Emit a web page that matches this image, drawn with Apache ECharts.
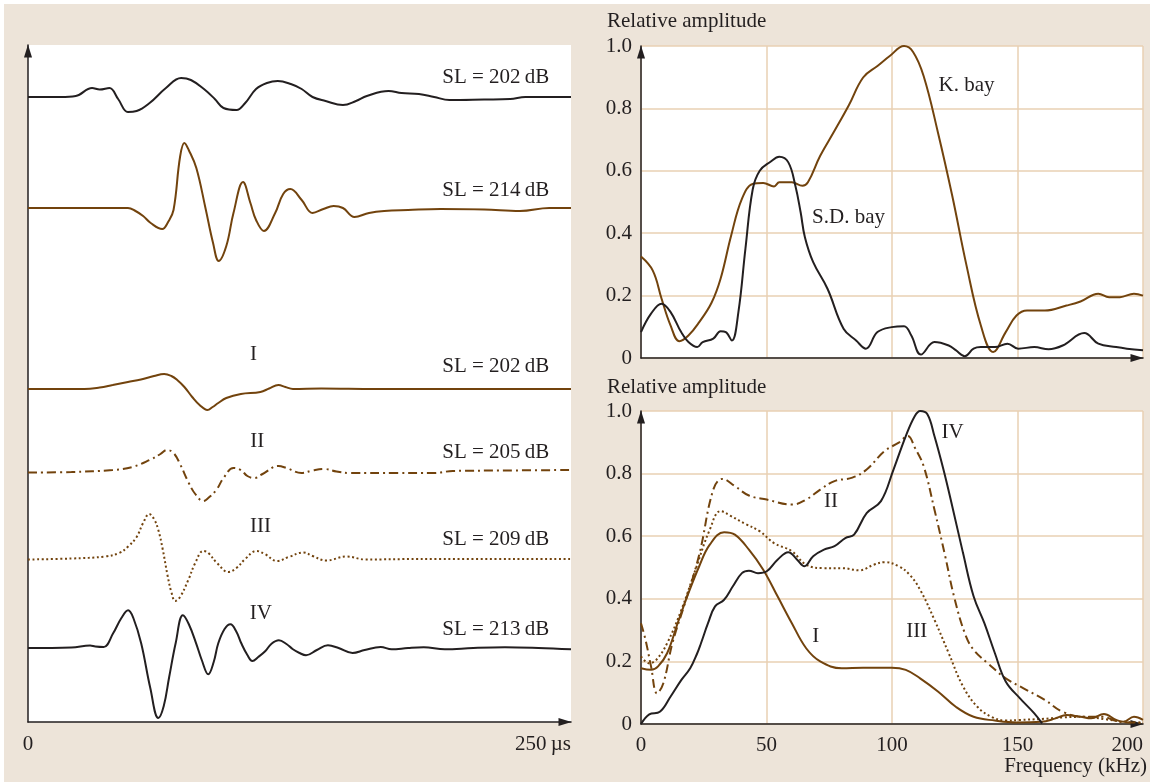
<!DOCTYPE html>
<html>
<head>
<meta charset="utf-8">
<script src="https://cdn.jsdelivr.net/npm/echarts@6/dist/echarts.min.js"></script>
<style>
  html, body { margin: 0; padding: 0; background: #fff; }
  #chart {
    position: absolute; left: 0; top: 0; width: 1150px; height: 782px;
    background: linear-gradient(#ede4d9, #ede4d9) 4px 4px / 1146px 778px no-repeat, #fff;
  }
</style>
</head>
<body>
<div id="chart"></div>
<script>
// ---- Echo waveforms: [time (µs), pressure (arbitrary units)] ----
const waveSD = [[0,0],[15,0],[22,1],[29.5,9],[33,7.5],[37.5,9],[41.5,-2],[46,-15],[50,-14],[56,-6],[63.5,9],[70.5,19],[75,17],[81,8],[86,-2],[90,-11],[96,-13],[100,-6],[105,8],[110,14],[115,16],[121,13],[126,8],[131,0],[137,-4],[145,-8],[151,-4],[156,1],[166,6],[172,4],[180,3],[187,0],[194,-3],[210,-2.5],[222,-2],[229,0],[250,0]];
const waveK = [[0,0],[46,0],[49.5,-3],[53,-8],[56.5,-15],[61.8,-21],[64.5,-14],[67,-2],[70,51],[72,65],[74,58],[77.5,40],[81.7,0],[85.2,-35],[87.8,-53],[91.3,-38],[94.6,-5],[99,26],[102.4,5],[105,-12],[108.6,-23],[113.8,-5],[117.5,14],[120.8,19],[126,8],[131,-5],[136,-1],[140.7,2],[145,0],[150.3,-9],[157,-5],[164,-3],[175,-2],[190,-1],[210,-1.5],[226.5,-3],[240,0],[250,0]];
const waveI = [[0,0],[26,0],[33,1.5],[39,4],[46,7],[52,9.5],[58,13],[62.7,15],[66,13],[68.7,9],[72,2],[75.6,-8],[79,-16],[82.6,-21],[85,-18],[87.6,-14],[91.3,-9],[98,-5],[107,-3],[111,0.5],[115.3,4],[118.5,2],[122,0],[135,0.5],[160,0],[250,0]];
const waveII = [[0,-0.5],[20,0],[39,2],[48,5],[56,12],[61,18],[64,22],[67,19],[70,8],[73.8,-10],[77,-22],[80.7,-29],[83,-26],[86.7,-18],[90,-6],[94.6,4],[98,2],[101,-4],[104.2,-6],[108,-2],[115.3,6],[119,4],[125.9,-1],[131,1.5],[136.5,3],[142,0.5],[148.5,-1],[170,-1],[186.8,-1],[195.6,1],[220,1.5],[250,2]];
const waveIII = [[0,-0.5],[20,0.5],[35.5,2.5],[42,6],[46.1,12.5],[50,22],[53,36],[55.8,45],[58,40],[60,29],[62,10],[64.3,-17],[66,-33],[67.8,-42],[70,-38],[73.8,-21],[77,-4],[80.7,8],[83,6],[87,-4],[92.3,-13],[96,-9],[100,0],[105.2,8],[109,5],[114.7,-2],[120,2],[126.8,6.5],[131,3],[137.2,-1.5],[146.7,2.5],[155.4,-0.5],[180,0],[250,0]];
const waveIV = [[0,0],[20,0.5],[28.6,2.5],[31,1.5],[34.8,1],[39.2,14.7],[43,30],[46.1,37.7],[48.5,30],[52.1,4.7],[56.3,-40],[60,-70],[62.5,-58],[65,-29],[68,5],[71.3,32.7],[74,24],[77.4,4.7],[80,-12],[83,-26.3],[85.5,-14],[87.6,4.7],[90.5,19],[93.2,23.7],[96,16],[98.2,4.7],[101,-7],[103.3,-13],[106,-9],[109.3,-3],[112,4],[115.5,7.7],[119,4],[121.8,-1],[125,-5],[128,-7.3],[133,-2],[138.1,2.7],[143,0],[149.4,-5],[155,-2],[162.4,1],[167.4,-1.3],[175,0],[182.2,0.7],[191.9,-1.3],[205,0],[219.6,0.7],[235,0],[250,-1.3]];

const waveNames = ['', '', 'I', 'II', 'III', 'IV'];
const sourceLevels = ['SL = 202\u2009dB', 'SL = 214\u2009dB', 'SL = 202\u2009dB', 'SL = 205\u2009dB', 'SL = 209\u2009dB', 'SL = 213\u2009dB'];

// ---- Spectra: [frequency (kHz), relative amplitude] ----
const specKBay = [[0,0.325],[4.7,0.28],[8.2,0.19],[11.8,0.104],[15.3,0.054],[18.9,0.072],[23.2,0.115],[28.1,0.177],[31.7,0.254],[35.9,0.392],[40.2,0.51],[44.5,0.558],[48.7,0.561],[53,0.55],[55.1,0.563],[60.1,0.563],[64.3,0.552],[66.5,0.563],[71.4,0.648],[77.1,0.728],[82.8,0.81],[88.5,0.899],[94.2,0.936],[99.1,0.968],[104.8,1.0],[108.4,0.981],[112.6,0.904],[118.3,0.723],[124,0.52],[129.7,0.296],[135.4,0.104],[140.3,0.019],[145.3,0.083],[149.6,0.136],[153.8,0.152],[160.9,0.152],[169.5,0.168],[175.1,0.181],[182.2,0.206],[186.5,0.195],[190.8,0.195],[196.4,0.206],[200,0.2]];
const specSDBay = [[0,0.083],[4,0.142],[8.2,0.174],[11.8,0.147],[16,0.083],[18.9,0.051],[22.4,0.035],[24.6,0.051],[28.8,0.062],[31.7,0.086],[33.8,0.083],[36.2,0.056],[38.8,0.147],[41.6,0.35],[44.5,0.54],[47.3,0.6],[51.6,0.629],[55.1,0.645],[58.7,0.627],[61.5,0.552],[63.6,0.467],[65.3,0.387],[68.6,0.307],[74.3,0.222],[80.7,0.094],[85.7,0.056],[89.6,0.03],[94.2,0.083],[99.9,0.099],[104.8,0.102],[107.7,0.072],[111.5,0.011],[116.9,0.051],[122.6,0.04],[125.4,0.025],[129,0.006],[132.5,0.03],[135.4,0.035],[141,0.035],[146,0.046],[150.3,0.03],[156.7,0.035],[162.4,0.028],[168,0.04],[176.6,0.08],[182.2,0.046],[189.3,0.035],[193.6,0.03],[200,0.025]];
const specI = [[0,0.178],[4,0.173],[6.8,0.184],[10.4,0.226],[14.6,0.322],[18.9,0.418],[23.2,0.504],[27.4,0.573],[33.1,0.613],[37.4,0.605],[43,0.557],[48.7,0.493],[54.4,0.408],[60.1,0.322],[65.8,0.242],[71.4,0.2],[80,0.178],[88.5,0.18],[99.9,0.18],[105.5,0.173],[111.2,0.146],[118.3,0.104],[125.4,0.055],[132.5,0.023],[141,0.011],[149.6,0.005],[159.5,0.007],[165.2,0.018],[169.5,0.029],[175.1,0.023],[179.4,0.018],[184.4,0.032],[189.3,0.013],[192.2,0.007],[196.4,0.023],[200,0.013]];
const specII = [[0,0.322],[1.8,0.269],[4,0.184],[6.4,0.098],[8.9,0.13],[12.5,0.258],[17.5,0.386],[23.2,0.541],[28.8,0.749],[32.4,0.783],[37.4,0.76],[43,0.73],[50.1,0.717],[60.1,0.701],[65.8,0.717],[71.4,0.749],[77.1,0.776],[84.2,0.787],[89.9,0.813],[97,0.872],[102.7,0.899],[106.3,0.92],[109.1,0.883],[112.6,0.824],[116.9,0.685],[121.2,0.536],[124.7,0.408],[129,0.29],[132.5,0.237],[138.2,0.194],[145.3,0.146],[152.4,0.114],[160.9,0.077],[168,0.039],[176.6,0.023],[183.7,0.023],[190.8,0.007],[200,0.004]];
const specIII = [[0,0.216],[3.3,0.194],[6.1,0.205],[10.4,0.258],[16.1,0.365],[21.7,0.493],[27.4,0.621],[31.7,0.68],[35.9,0.664],[41.6,0.639],[47.3,0.616],[53,0.578],[60.1,0.552],[65.8,0.509],[72.9,0.498],[80,0.498],[87.1,0.491],[92.8,0.509],[97,0.517],[102.7,0.504],[107,0.477],[111.2,0.429],[116.9,0.333],[122.6,0.226],[128.3,0.12],[134,0.055],[139.6,0.023],[145.3,0.011],[151,0.013],[159.5,0.016],[168,0.021],[176.6,0.023],[185.1,0.015],[192.2,0.007],[200,0.005]];
const specIV = [[0,0],[3.3,0.031],[7.5,0.039],[11.8,0.088],[16.1,0.141],[19.6,0.178],[22.4,0.226],[23.9,0.258],[26.7,0.322],[29.5,0.376],[33.1,0.397],[36.6,0.44],[40.2,0.482],[43,0.49],[46.6,0.482],[50.1,0.488],[54.4,0.525],[58.7,0.549],[62.2,0.525],[65.1,0.504],[68.6,0.536],[72.9,0.557],[77.1,0.568],[81.4,0.594],[84.9,0.605],[89.9,0.674],[95.6,0.712],[100.6,0.813],[105.5,0.92],[109.1,0.984],[111.2,1.0],[114.1,0.99],[116.9,0.92],[120.5,0.813],[124,0.696],[128.3,0.546],[132.5,0.408],[136.8,0.322],[141,0.226],[145.3,0.136],[151,0.082],[156.7,0.034],[159.8,0.002]];

const freqTicks = [0, 50, 100, 150, 200];
const ampTicks = [0, 0.2, 0.4, 0.6, 0.8, 1.0];

// ---- Styling and layout ----
const INK = '#231f20';
const BROWN = '#72430d';
const GRIDLINE = '#e8d0b3';
const FONT = "'Liberation Serif', 'Times New Roman', serif";
const FS = 21;
const DASHDOT = [9, 4, 2, 4];
const DOTTED = [2, 2.6];

// vertical offset of each waveform's baseline inside the stacked panel
const stackMax = 677;
const stackBase = [625, 514, 333, 250, 163, 74];
const waveStyles = [
  { color: INK, type: 'solid' },
  { color: BROWN, type: 'solid' },
  { color: BROWN, type: 'solid' },
  { color: BROWN, type: DASHDOT },
  { color: BROWN, type: DOTTED },
  { color: INK, type: 'solid' }
];
const slLift = [20, 17.3, 22.6, 19.3, 19.3, 18.7];
const nameLift = [0, 0, 34.3, 30.3, 32.6, 35];
const nameTime = [0, 0, 103.8, 105.6, 107, 107.2];
const slTime = 240;

const waves = [waveSD, waveK, waveI, waveII, waveIII, waveIV];

const chart = echarts.init(document.getElementById('chart'), null, { renderer: 'canvas' });

// axis line ending in a filled arrowhead whose tip sits at the axis end
const arrowLine = {
  lineStyle: { color: INK, width: 1.5 },
  symbol: ['none', 'triangle'],
  symbolSize: [8, 13],
  symbolOffset: [0, -6]
};
const txt = { color: INK, fontFamily: FONT, fontSize: FS };

function freqAxis(gridIndex, showLabels) {
  return {
    type: 'value', gridIndex, min: freqTicks[0], max: freqTicks[freqTicks.length - 1],
    interval: freqTicks[1] - freqTicks[0],
    axisLine: arrowLine, axisTick: { show: false },
    splitLine: { show: true, lineStyle: { color: GRIDLINE, width: 1.5 } },
    axisLabel: Object.assign({ show: showLabels, margin: 11, alignMaxLabel: 'right' }, txt)
  };
}
function ampAxis(gridIndex) {
  return {
    type: 'value', gridIndex, min: ampTicks[0], max: ampTicks[ampTicks.length - 1],
    interval: 0.2,
    axisLine: arrowLine, axisTick: { show: false },
    splitLine: { show: true, lineStyle: { color: GRIDLINE, width: 1.5 } },
    axisLabel: Object.assign({ margin: 9, formatter: v => (v === 0 ? '0' : v.toFixed(1)) }, txt)
  };
}

const series = [];
waves.forEach((w, i) => {
  series.push({
    type: 'line', xAxisIndex: 0, yAxisIndex: 0, symbol: 'none', smooth: 0.4,
    lineStyle: { color: waveStyles[i].color, type: waveStyles[i].type, width: 2 },
    data: w.map(p => [p[0], p[1] + stackBase[i]]),
    silent: true, z: 3
  });
});

// text labels attached to the waveform panel
const waveLabelData = [];
waves.forEach((w, i) => {
  waveLabelData.push({ value: [slTime, stackBase[i] + slLift[i]], name: sourceLevels[i], label: { align: 'right' } });
  if (waveNames[i]) {
    waveLabelData.push({ value: [nameTime[i], stackBase[i] + nameLift[i]], name: waveNames[i], label: { align: 'center' } });
  }
});
series.push({
  type: 'scatter', xAxisIndex: 0, yAxisIndex: 0, symbolSize: 0, silent: true, z: 5,
  itemStyle: { opacity: 1 },
  label: Object.assign({ show: true, position: 'inside', verticalAlign: 'middle', formatter: '{b}' }, txt),
  data: waveLabelData
});

function specLine(data, axisIdx, color, type) {
  return {
    type: 'line', xAxisIndex: axisIdx, yAxisIndex: axisIdx, symbol: 'none', smooth: 0.4,
    lineStyle: { color, type, width: 2 }, data, silent: true, z: 3
  };
}
series.push(specLine(specKBay, 1, BROWN, 'solid'));
series.push(specLine(specSDBay, 1, INK, 'solid'));
series.push(specLine(specI, 2, BROWN, 'solid'));
series.push(specLine(specII, 2, BROWN, DASHDOT));
series.push(specLine(specIII, 2, BROWN, DOTTED));
series.push(specLine(specIV, 2, INK, 'solid'));

function labelSeries(axisIdx, items) {
  return {
    type: 'scatter', xAxisIndex: axisIdx, yAxisIndex: axisIdx, symbolSize: 0, silent: true, z: 5,
    itemStyle: { opacity: 1 },
    label: Object.assign({ show: true, position: 'inside', align: 'center', verticalAlign: 'middle', formatter: '{b}' }, txt),
    data: items.map(d => ({ value: [d[0], d[1]], name: d[2] }))
  };
}
series.push(labelSeries(1, [[129.7, 0.872, 'K. bay'], [82.7, 0.45, 'S.D. bay']]));
series.push(labelSeries(2, [[69.6, 0.279, 'I'], [75.7, 0.71, 'II'], [109.9, 0.295, 'III'], [124.1, 0.931, 'IV']]));

const gridBase = { show: true, backgroundColor: '#fff', borderWidth: 0, containLabel: false, outerBoundsMode: 'none' };

const option = {
  backgroundColor: 'transparent',
  animation: false,
  grid: [
    Object.assign({ left: 28, top: 45, width: 543, height: 677 }, gridBase),
    Object.assign({ left: 641, top: 46, width: 502, height: 312 }, gridBase),
    Object.assign({ left: 641, top: 411, width: 502, height: 313 }, gridBase)
  ],
  xAxis: [
    {
      type: 'value', gridIndex: 0, min: 0, max: 250, interval: 250,
      axisLine: arrowLine, axisTick: { show: false }, splitLine: { show: false },
      axisLabel: Object.assign({ margin: 12, alignMaxLabel: 'right', formatter: v => (v === 250 ? '250\u2009µs' : String(v)) }, txt)
    },
    freqAxis(1, false),
    freqAxis(2, true)
  ],
  yAxis: [
    {
      type: 'value', gridIndex: 0, min: 0, max: stackMax,
      axisLine: arrowLine, axisTick: { show: false }, splitLine: { show: false },
      axisLabel: { show: false }
    },
    ampAxis(1),
    ampAxis(2)
  ],
  graphic: [
    { type: 'text', left: 607, top: 11, style: { text: 'Relative amplitude', fill: INK, font: FS + 'px ' + FONT } },
    { type: 'text', left: 607, top: 377, style: { text: 'Relative amplitude', fill: INK, font: FS + 'px ' + FONT } },
    { type: 'text', right: 3, top: 756, style: { text: 'Frequency (kHz)', fill: INK, font: FS + 'px ' + FONT } }
  ],
  series
};

chart.setOption(option);
</script>
</body>
</html>
